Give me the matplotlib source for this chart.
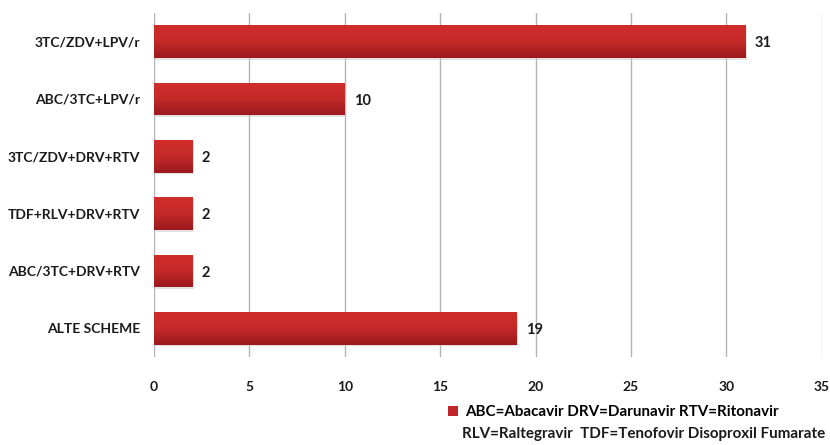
import numpy as np
import matplotlib
matplotlib.use("Agg")
import matplotlib.pyplot as plt
from matplotlib.colors import LinearSegmentedColormap
from matplotlib.patches import Patch

plt.rcParams['font.family'] = ['Lato', 'DejaVu Sans']

schemes = ["3TC/ZDV+LPV/r", "ABC/3TC+LPV/r", "3TC/ZDV+DRV+RTV",
           "TDF+RLV+DRV+RTV", "ABC/3TC+DRV+RTV", "ALTE SCHEME"]
counts = [31, 10, 2, 2, 2, 19]
legend_lines = ["ABC=Abacavir DRV=Darunavir RTV=Ritonavir",
                "RLV=Raltegravir  TDF=Tenofovir Disoproxil Fumarate"]

fig = plt.figure(figsize=(8.3, 4.45), dpi=100)
ax = fig.add_axes([0.1855, 0.1978, 0.8045, 0.773])

ypos = np.arange(len(schemes))[::-1]
bar_h = 0.57
grad = LinearSegmentedColormap.from_list("red_grad", ["#cf2d2b", "#c42a29", "#9c191d"])

bars = ax.barh(ypos, counts, height=bar_h, color="#bd2527", zorder=3)
for b in bars:
    x0, y0 = b.get_x(), b.get_y()
    w, h = b.get_width(), b.get_height()
    # soft shadow
    ax.barh(y0 + h / 2 - 0.03, w + 0.08, height=h, left=x0, color="#c8c8c8",
            alpha=0.5, zorder=2)
    img = np.linspace(0, 1, 64).reshape(-1, 1)
    im = ax.imshow(img, cmap=grad, aspect="auto", extent=(x0, x0 + w, y0, y0 + h),
                   origin="upper", zorder=4)
    im.set_clip_path(b)

for y, v in zip(ypos, counts):
    ax.text(v + 0.5, y - 0.03, str(v), va="center", ha="left",
            fontsize=10.5, fontweight="bold", color="#1a1a1a")

ax.set_xlim(0, 35)
ax.set_ylim(-0.5, len(schemes) - 0.5)
ax.set_xticks(np.arange(0, 36, 5))
ax.set_yticks(ypos)
ax.set_yticklabels(schemes)
ax.xaxis.grid(True, color="#b4b4b4", linewidth=1.0, zorder=0)
for s in ax.spines.values():
    s.set_visible(False)
ax.tick_params(axis="both", length=0, labelsize=10, colors="#1a1a1a")
ax.tick_params(axis="x", pad=17)
ax.tick_params(axis="y", pad=10)
for lab in ax.get_xticklabels() + ax.get_yticklabels():
    lab.set_fontweight("bold")

leg = fig.legend(handles=[Patch(facecolor="#c0262a", edgecolor="none", label=legend_lines[0])],
                 loc="center left", bbox_to_anchor=(448 / 830, 1 - 412 / 445), frameon=False,
                 handlelength=0.65, handleheight=0.65, handletextpad=0.45,
                 prop={"weight": "bold", "size": 10.9}, borderaxespad=0, borderpad=0)
fig.text(462 / 830, 1 - 434 / 445, legend_lines[1], ha="left", va="center",
         fontsize=10.9, fontweight="bold", color="#1a1a1a")

fig.savefig("out.png", dpi=100)
